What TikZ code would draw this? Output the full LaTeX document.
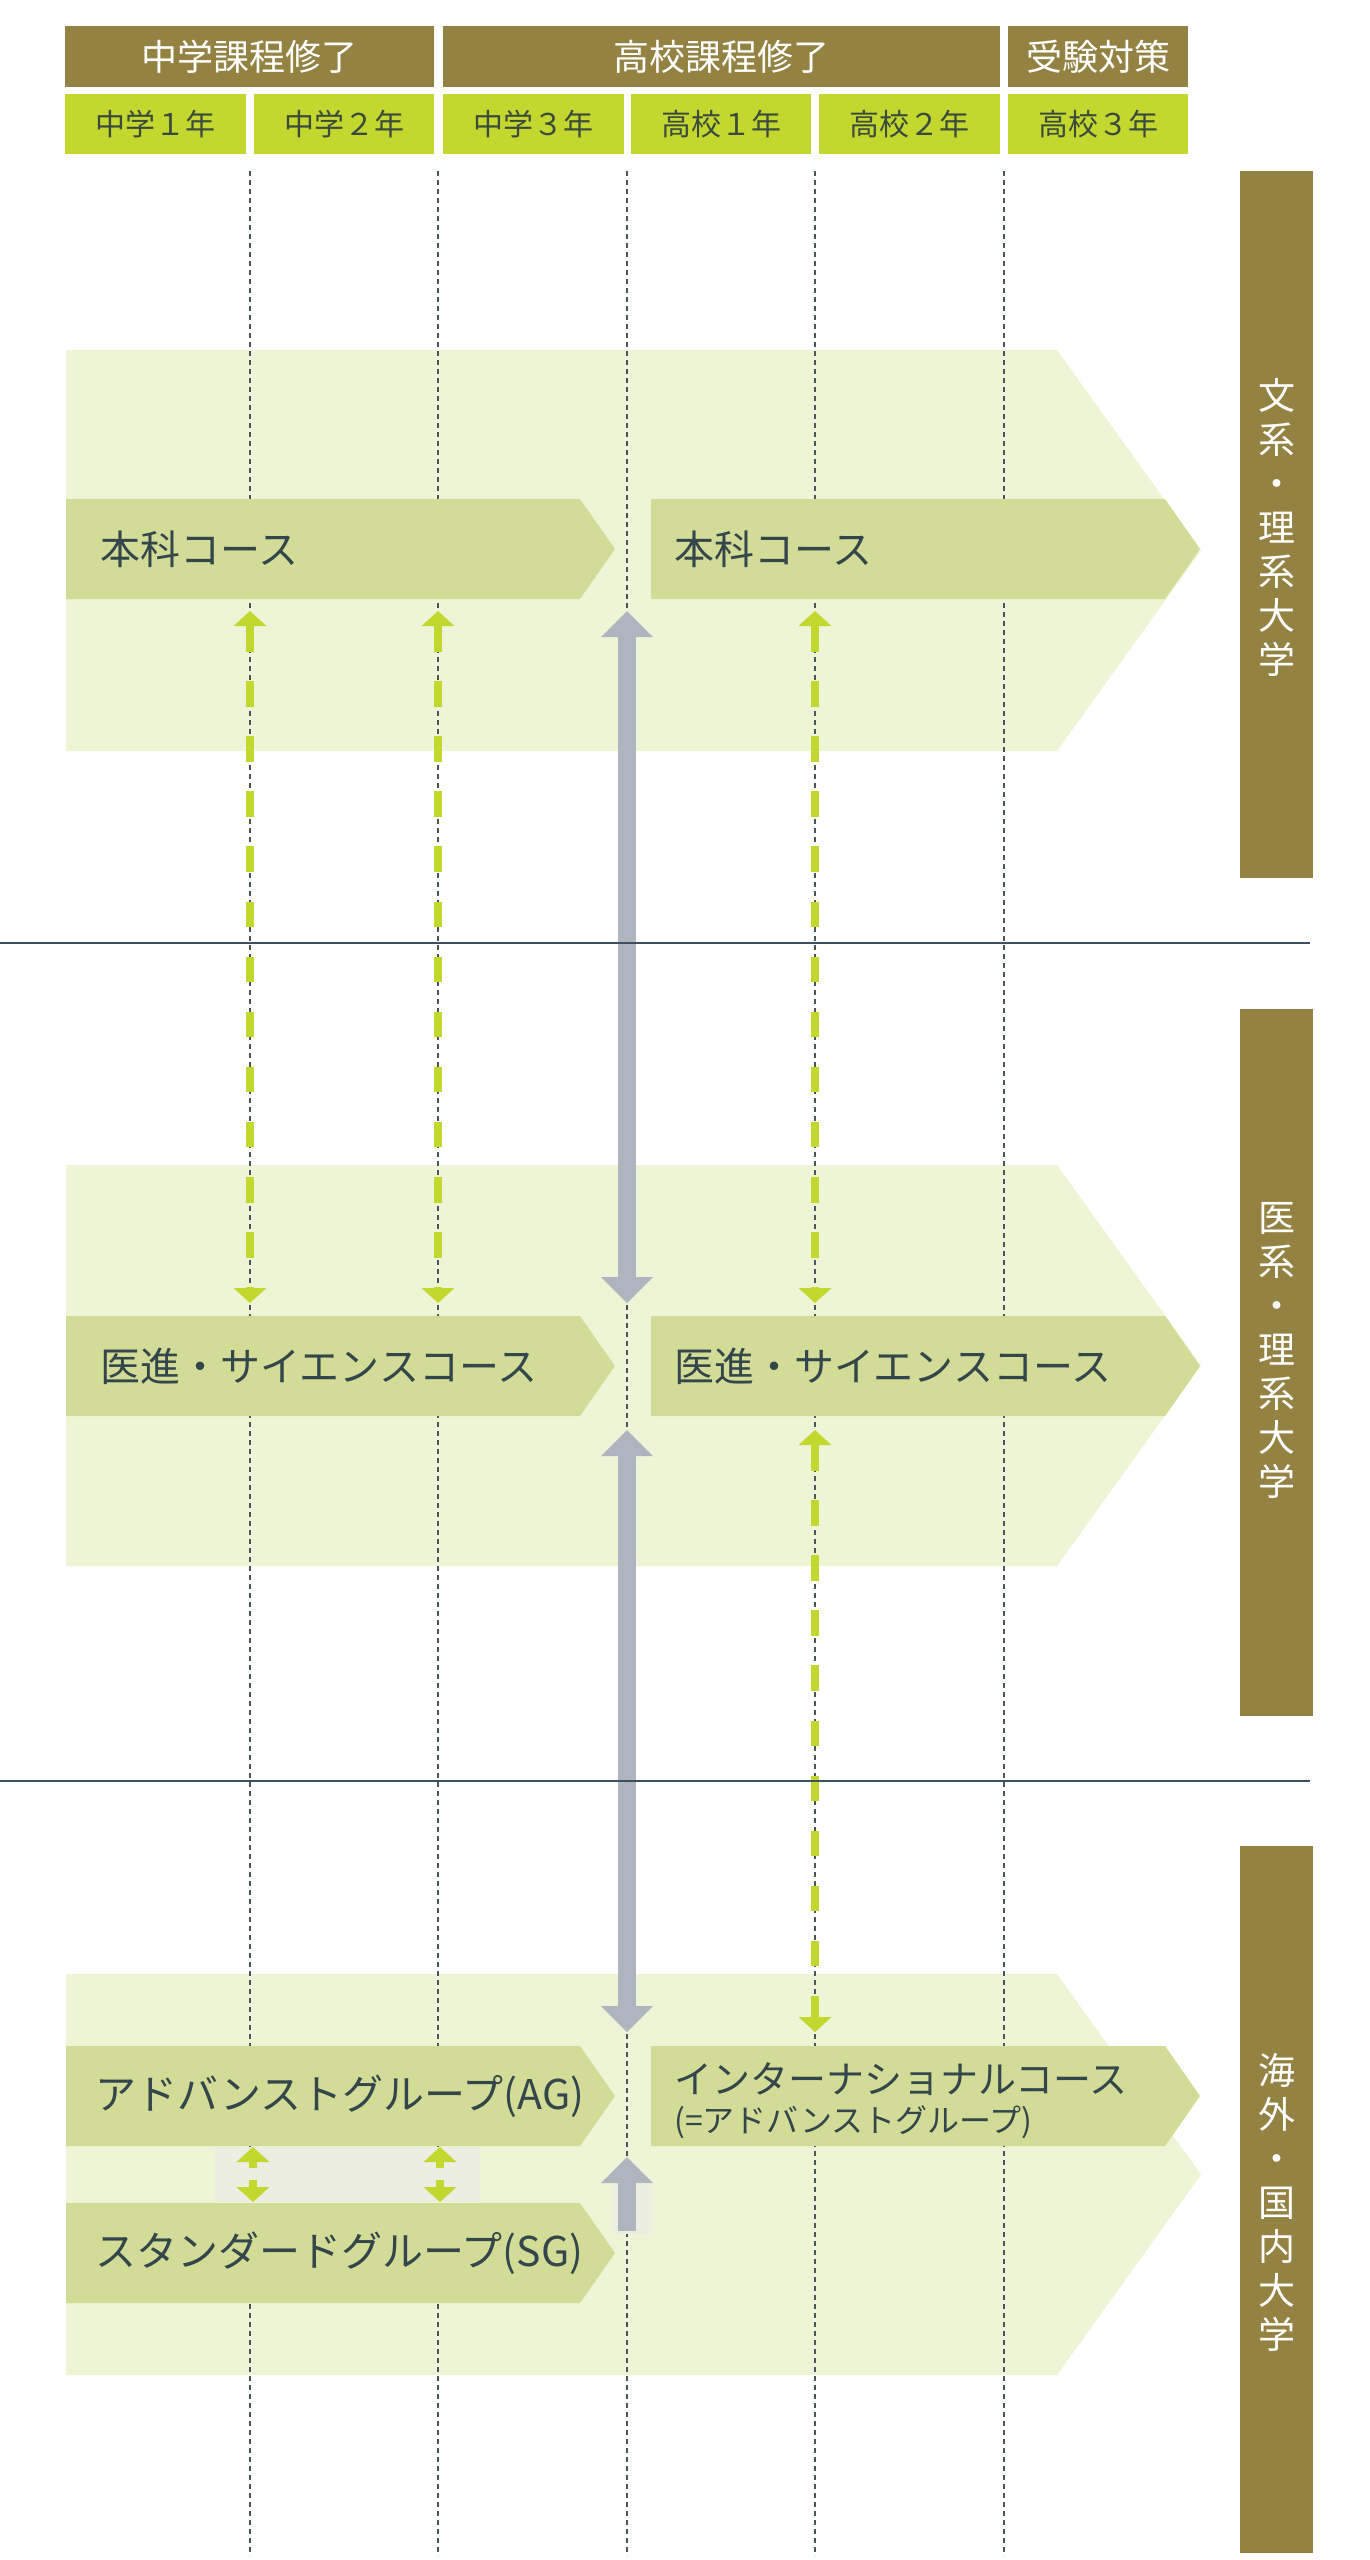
\documentclass[tikz,border=0pt]{standalone}
\usepackage{fontspec}
\newfontfamily\jp{Noto Sans CJK JP}
\definecolor{cOlive}{HTML}{938241}
\definecolor{cLime}{HTML}{C3D72F}
\definecolor{cPanel}{HTML}{EEF5D6}
\definecolor{cCourse}{HTML}{D2DC96}
\definecolor{cGrayArr}{HTML}{AEB5BE}
\definecolor{cGrnArr}{HTML}{C3D82E}
\definecolor{cTxt}{HTML}{33464B}
\definecolor{cCellTxt}{HTML}{3A4A3C}
\definecolor{cSep}{HTML}{3E5060}
\definecolor{cSoft}{HTML}{EDEEE2}
\definecolor{cGrid}{HTML}{4A5558}
\tikzset{
  headbox/.style={fill=cOlive},
  cellbox/.style={fill=cLime},
  headtxt/.style={text=white, font=\jp\fontsize{36}{40}\selectfont, inner sep=0},
  celltxt/.style={text=cCellTxt, font=\jp\fontsize{30}{34}\selectfont, inner sep=0},
  coursetxt/.style={text=cTxt, font=\jp\fontsize{40}{44}\selectfont, inner sep=0, anchor=west},
  vtxt/.style={text=white, font=\jp\fontsize{37}{44}\selectfont, inner sep=0, align=center},
  gridline/.style={draw=cGrid, line width=1.1pt, dash pattern=on 5pt off 4pt},
  sepline/.style={draw=cSep, line width=2pt},
  grnshaft/.style={draw=cGrnArr, line width=8pt, dash pattern=on 25.5pt off 29.6pt},
}
\newcommand\chev[3]{\fill[cCourse] (#1,#3) -- (#2,#3) -- (#2+35,#3+50) -- (#2,#3+100) -- (#1,#3+100) -- cycle;}
% tri: colour, x, tip y, base y, half width
\newcommand\tri[5]{\fill[#1] (#2,#3) -- (#2-#5,#4) -- (#2+#5,#4) -- cycle;}
\begin{document}
\begin{tikzpicture}[x=1pt,y=-1pt]
\useasboundingbox[fill=white] (0,0) rectangle (1369,2560);

% panels
\foreach \t in {350,1165,1974}
  \fill[cPanel] (66,\t) -- (1057,\t) -- (1201,\t+200.5) -- (1057,\t+401) -- (66,\t+401) -- cycle;

% grid lines
\foreach \x in {250,438,627,815,1004}
  \draw[gridline] (\x,171) -- (\x,2556);

% course chevrons
\chev{66}{580}{499}
\chev{651}{1165}{499}
\chev{66}{580}{1316}
\chev{651}{1165}{1316}
\chev{66}{580}{2046}
\chev{651}{1165}{2046}
\chev{66}{580}{2203}

% soft backgrounds
\fill[cSoft] (215,2147) rectangle (480,2202);
\fill[cSoft] (612,2184) rectangle (652,2234);

% grey arrows
\fill[cGrayArr] (618,636) rectangle (636,1278);
\tri{cGrayArr}{627}{611}{637}{26}
\tri{cGrayArr}{627}{1303}{1277}{26}
\fill[cGrayArr] (618,1455) rectangle (636,2007);
\tri{cGrayArr}{627}{1430}{1456}{26}
\tri{cGrayArr}{627}{2032}{2006}{26}
\fill[cGrayArr] (618,2182) rectangle (636,2231);
\tri{cGrayArr}{627}{2157}{2183}{26}

% green dashed arrows
\foreach \x in {250,438,815}{
  \draw[grnshaft] (\x,626) -- (\x,1288);
  \tri{cGrnArr}{\x}{611}{626}{16.5}
  \tri{cGrnArr}{\x}{1303}{1288}{16.5}
}
\draw[grnshaft] (815,1445) -- (815,2017);
\tri{cGrnArr}{815}{1430}{1445}{16.5}
\tri{cGrnArr}{815}{2032}{2017}{16.5}

% small green arrows between AG and SG
\foreach \x in {253,440}{
  \fill[cGrnArr] (\x-4,2161) rectangle (\x+4,2168);
  \tri{cGrnArr}{\x}{2147}{2162}{16.5}
  \fill[cGrnArr] (\x-4,2180) rectangle (\x+4,2188);
  \tri{cGrnArr}{\x}{2202}{2187}{16.5}
}

% separators
\draw[sepline] (0,943) -- (1310,943);
\draw[sepline] (0,1781) -- (1310,1781);

% course texts
\node[coursetxt] (c1l) at (100,549) {本科コース};
\node[coursetxt] (c1r) at (674,549) {本科コース};
\node[coursetxt] (c2l) at (100,1366) {医進・サイエンスコース};
\node[coursetxt] (c2r) at (674,1366) {医進・サイエンスコース};
\node[coursetxt, font=\jp\fontsize{41}{44}\selectfont] (c3l) at (95,2096) {アドバンストグループ(AG)};
\node[coursetxt, font=\jp\fontsize{41}{44}\selectfont] (c4l) at (95,2253) {スタンダードグループ(SG)};
\node[coursetxt, font=\jp\fontsize{38}{40}\selectfont] (c3r) at (674,2079) {インターナショナルコース};
\node[coursetxt, font=\jp\fontsize{32}{34}\selectfont] (c3r2) at (674,2122) {(=アドバンストグループ)};

% header row 1
\fill[headbox] (65,26) rectangle (434,87);
\fill[headbox] (443,26) rectangle (1000,87);
\fill[headbox] (1008,26) rectangle (1188,87);
\node[headtxt] (h1) at (249.5,56.5) {中学課程修了};
\node[headtxt] (h2) at (721.5,56.5) {高校課程修了};
\node[headtxt] (h3) at (1098,56.5) {受験対策};

% header row 2
\foreach \a/\b/\t [count=\i] in {65/246/中学１年,254/434/中学２年,443/624/中学３年,631/811/高校１年,819/1000/高校２年,1008/1188/高校３年}{
  \fill[cellbox] (\a,94) rectangle (\b,154);
  \node[celltxt] (y\i) at ({(\a+\b)/2},124) {\t};
}

% right bars
\fill[headbox] (1240,171) rectangle (1313,878);
\fill[headbox] (1240,1009) rectangle (1313,1716);
\fill[headbox] (1240,1846) rectangle (1313,2553);
\node[vtxt] (r1) at (1276.5,527) {文\\系\\・\\理\\系\\大\\学};
\node[vtxt] (r2) at (1276.5,1350) {医\\系\\・\\理\\系\\大\\学};
\node[vtxt] (r3) at (1276.5,2202) {海\\外\\・\\国\\内\\大\\学};
\end{tikzpicture}
\end{document}
